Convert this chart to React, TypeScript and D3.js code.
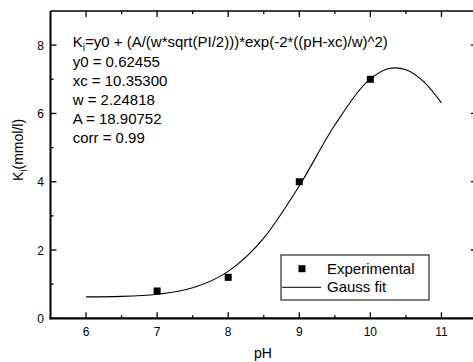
import React from "react";
import * as d3 from "d3";

const expX = [7, 8, 9, 10];
const expY = [0.8, 1.2, 4.0, 7.0];

const fitX = [6, 6.5, 7, 7.5, 8, 8.5, 9, 9.5, 10, 10.25, 10.35, 10.5, 10.75, 11];
const fitY = [0.628, 0.643, 0.703, 0.892, 1.375, 2.35, 3.88, 5.66, 7.01, 7.31, 7.335, 7.28, 6.93, 6.31];

const xMajor = [6, 7, 8, 9, 10, 11];
const xMinor = [6.5, 7.5, 8.5, 9.5, 10.5, 11.5];
const yMajor = [0, 2, 4, 6, 8];
const yMinor = [1, 3, 5, 7];

const annotLines = ["y0 = 0.62455", "xc = 10.35300", "w = 2.24818", "A = 18.90752", "corr = 0.99"];
const legendLabels = ["Experimental", "Gauss fit"];

const W = 473;
const H = 362;
const FONT = "Arial, 'Liberation Sans', sans-serif";

export default function App() {
  const x = d3.scaleLinear().domain([5.5, 11.5]).range([50.5, 477]);
  const y = d3.scaleLinear().domain([0, 9]).range([318.3, 11]);
  const line = d3
    .line<number>()
    .x((d, i) => x(fitX[i]))
    .y((d) => y(d))
    .curve(d3.curveMonotoneX);
  const x0 = x(5.5), x1 = x(11.5), yb = y(0), yt = y(9);
  return (
    <svg width={W} height={H} style={{ position: "absolute", left: 0, top: 0, background: "#fff" }} fontFamily={FONT}>
      <rect x={0} y={0} width={W} height={H} fill="#fff" />
      {/* frame */}
      <line x1={x0} x2={x1} y1={yt} y2={yt} stroke="#000" strokeWidth={1.5} />
      <line x1={x1} x2={x1} y1={yt} y2={yb} stroke="#000" strokeWidth={1.5} />
      <line x1={x0} x2={x0} y1={yt} y2={yb + 1} stroke="#000" strokeWidth={2} />
      <line x1={x0 - 1} x2={x1} y1={yb} y2={yb} stroke="#000" strokeWidth={2.2} />
      {/* x ticks */}
      {xMajor.map((v) => (
        <g key={"xm" + v}>
          <line x1={x(v)} x2={x(v)} y1={yb} y2={yb - 6} stroke="#000" strokeWidth={1.3} />
          <line x1={x(v)} x2={x(v)} y1={yt} y2={yt + 6} stroke="#000" strokeWidth={1.3} />
          <text x={x(v)} y={336} fontSize={12} textAnchor="middle">{v}</text>
        </g>
      ))}
      {xMinor.map((v) => (
        <g key={"xn" + v}>
          <line x1={x(v)} x2={x(v)} y1={yb} y2={yb - 3} stroke="#000" strokeWidth={1.3} />
          <line x1={x(v)} x2={x(v)} y1={yt} y2={yt + 3} stroke="#000" strokeWidth={1.3} />
        </g>
      ))}
      {/* y ticks */}
      {yMajor.map((v) => (
        <g key={"ym" + v}>
          <line x1={x0} x2={x0 + 6} y1={y(v)} y2={y(v)} stroke="#000" strokeWidth={1.3} />
          <line x1={x1} x2={x1 - 6} y1={y(v)} y2={y(v)} stroke="#000" strokeWidth={1.3} />
          <text x={44} y={y(v) + 4.5} fontSize={12} textAnchor="end">{v}</text>
        </g>
      ))}
      {yMinor.map((v) => (
        <g key={"yn" + v}>
          <line x1={x0} x2={x0 + 3} y1={y(v)} y2={y(v)} stroke="#000" strokeWidth={1.3} />
          <line x1={x1} x2={x1 - 3} y1={y(v)} y2={y(v)} stroke="#000" strokeWidth={1.3} />
        </g>
      ))}
      {/* axis titles */}
      <text x={263} y={358} fontSize={14} textAnchor="middle">pH</text>
      <text transform="translate(23,150) rotate(-90)" fontSize={14} textAnchor="middle">
        K<tspan fontSize={10} dy={4}>i</tspan><tspan dy={-4}>(mmol/l)</tspan>
      </text>
      {/* fit curve */}
      <path d={line(fitY) || ""} fill="none" stroke="#000" strokeWidth={1.1} />
      {/* points */}
      {expX.map((v, i) => (
        <rect key={"p" + i} x={x(v) - 3.5} y={y(expY[i]) - 3.5} width={7} height={7} fill="#000" />
      ))}
      {/* annotation */}
      <text x={72.7} y={46.5} fontSize={15}>
        K<tspan fontSize={10} dy={4}>i</tspan>
        <tspan dy={-4}>=y0 + (A/(w*sqrt(PI/2)))*exp(-2*((pH-xc)/w)^2)</tspan>
      </text>
      {annotLines.map((t, i) => (
        <text key={t} x={72.7} y={66.7 + i * 19} fontSize={15}>{t}</text>
      ))}
      {/* legend */}
      <rect x={281} y={255} width={148} height={45} fill="#fff" stroke="#000" strokeWidth={1} />
      <rect x={302 - 3.5} y={268.7 - 3.5} width={7} height={7} fill="#000" />
      <line x1={282} x2={321} y1={287.3} y2={287.3} stroke="#000" strokeWidth={1} />
      <text x={327} y={274.3} fontSize={15}>{legendLabels[0]}</text>
      <text x={327} y={292.3} fontSize={15}>{legendLabels[1]}</text>
    </svg>
  );
}
